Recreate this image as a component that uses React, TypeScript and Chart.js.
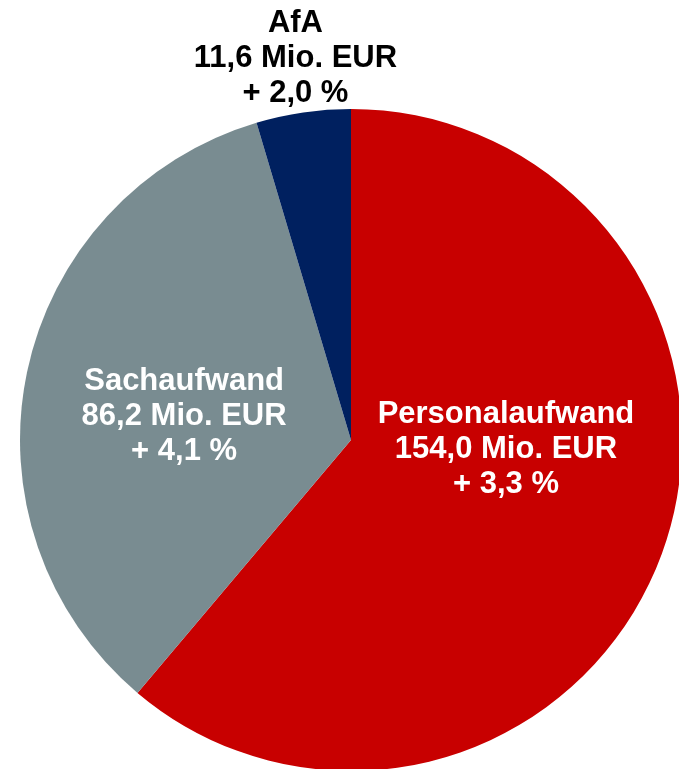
import React, { useEffect, useRef } from "react";
import { Chart, registerables } from "chart.js";

Chart.register(...registerables);

const categories = ["Personalaufwand", "Sachaufwand", "AfA"];
const values = [154.0, 86.2, 11.6];
const amountLabels = ["154,0 Mio. EUR", "86,2 Mio. EUR", "11,6 Mio. EUR"];
const changeLabels = ["+ 3,3 %", "+ 4,1 %", "+ 2,0 %"];
const colors = ["#C80000", "#798C91", "#00205F"];
const labelColors = ["#FFFFFF", "#FFFFFF", "#000000"];
// label placement: fraction of radius and angle offset (degrees) from slice mid-angle
const labelRadius = [0.469, 0.509, 1.164];
const labelAngleOffset = [-16.7, -3.9, 0];

const labelPlugin = {
  id: "sliceLabels",
  afterDatasetsDraw(chart: any) {
    const ctx = chart.ctx;
    const meta = chart.getDatasetMeta(0);
    ctx.save();
    ctx.font = "bold 31px 'Liberation Sans', Arial, sans-serif";
    ctx.textAlign = "center";
    ctx.textBaseline = "middle";
    meta.data.forEach((arc: any, i: number) => {
      const { x, y, startAngle, endAngle, outerRadius } = arc.getProps(
        ["x", "y", "startAngle", "endAngle", "outerRadius"],
        true
      );
      const mid = (startAngle + endAngle) / 2 + (labelAngleOffset[i] * Math.PI) / 180;
      const d = outerRadius * labelRadius[i];
      const lx = x + Math.cos(mid) * d;
      const ly = y + Math.sin(mid) * d;
      ctx.fillStyle = labelColors[i];
      const lines = [categories[i], amountLabels[i], changeLabels[i]];
      const lh = 35;
      lines.forEach((t, k) => {
        ctx.fillText(t, lx, ly + (k - 1) * lh);
      });
    });
    ctx.restore();
  },
};

export default function App() {
  const ref = useRef<HTMLCanvasElement | null>(null);
  useEffect(() => {
    document.body.style.margin = "0";
    document.body.style.overflow = "hidden";
    const chart = new Chart(ref.current as HTMLCanvasElement, {
      type: "pie",
      data: {
        labels: categories,
        datasets: [
          {
            data: values,
            backgroundColor: colors,
            borderWidth: 0,
          },
        ],
      },
      options: {
        animation: false,
        responsive: false,
        layout: { padding: { left: 20, top: 109, right: 20, bottom: 29 } },
        plugins: {
          legend: { display: false },
          tooltip: { enabled: false },
        },
      },
      plugins: [labelPlugin],
    });
    return () => chart.destroy();
  }, []);
  return (
    <div
      style={{
        position: "fixed",
        left: 0,
        top: 0,
        width: 679,
        height: 769,
        overflow: "hidden",
        background: "#fff",
      }}
    >
      <canvas ref={ref} width={702} height={800} style={{ width: 702, height: 800, display: "block" }} />
    </div>
  );
}
